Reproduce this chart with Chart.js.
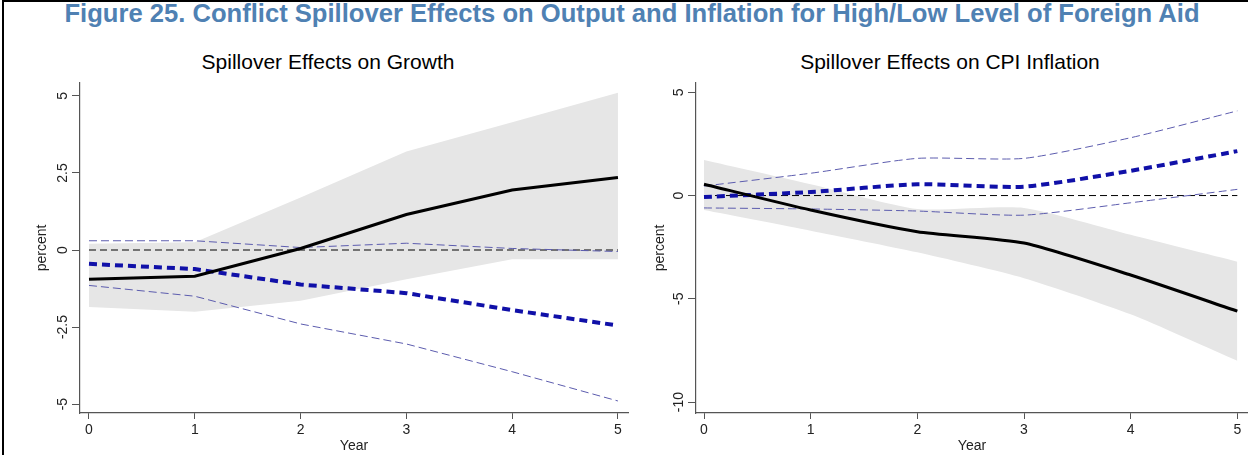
<!DOCTYPE html>
<html>
<head>
<meta charset="utf-8">
<script src="https://cdn.jsdelivr.net/npm/chart.js@4.4.1/dist/chart.umd.min.js"></script>
<style>
  body { margin: 0; background: #fff; font-family: "Liberation Sans", Arial, sans-serif; }
  #page { position: relative; width: 1248px; height: 455px; overflow: hidden; }
  #frame { position: absolute; left: 2px; top: 0px; width: 1300px; height: 500px;
           border-left: 2px solid #000; border-top: 2px solid #000; }
  #title { position: absolute; left: 0; width: 1264px; top: -1px; line-height: 28px;
           text-align: center; font-weight: bold; font-size: 25.6px; color: #4f81b3; white-space: nowrap; }
  .sub { position: absolute; top: 50px; line-height: 24px; font-size: 21px; color: #000;
         text-align: center; white-space: nowrap; }
  .box { position: absolute; top: 80px; height: 375px; }
</style>
</head>
<body>
<div id="page">
  <div id="frame"></div>
  <div id="title">Figure 25. Conflict Spillover Effects on Output and Inflation for High/Low Level of Foreign Aid</div>
  <div class="sub" style="left:128px;width:400px">Spillover Effects on Growth</div>
  <div class="sub" style="left:750px;width:400px">Spillover Effects on CPI Inflation</div>
  <div class="box" style="left:14px;width:620px"><canvas id="growth" width="620" height="375"></canvas></div>
  <div class="box" style="left:632px;width:616px"><canvas id="cpi" width="616" height="375"></canvas></div>
</div>
<script>
// horizon in years
const years = [0, 1, 2, 3, 4, 5];
const zeroLine = [0, 0, 0, 0, 0, 0];

// growth panel
const growthBase = [-0.95, -0.85, 0.05, 1.15, 1.95, 2.35];
const growthBandUpper = [0.2, 0.25, 1.7, 3.2, 4.15, 5.1];
const growthBandLower = [-1.85, -2.0, -1.65, -0.95, -0.3, -0.3];
const growthAid = [-0.45, -0.62, -1.12, -1.4, -1.95, -2.45];
const growthAidUpper = [0.3, 0.3, 0.08, 0.22, 0.05, -0.05];
const growthAidLower = [-1.15, -1.5, -2.4, -3.05, -3.95, -4.9];
const growthTicks = [5, 2.5, 0, -2.5, -5];

// CPI panel
const cpiBase = [0.55, -0.7, -1.75, -2.3, -3.85, -5.6];
const cpiBandUpper = [1.72, 0.55, -0.65, -0.6, -1.9, -3.2];
const cpiBandLower = [-0.7, -1.7, -2.75, -4.0, -5.75, -8.0];
const cpiAid = [-0.07, 0.17, 0.55, 0.43, 1.2, 2.15];
const cpiAidUpper = [0.46, 1.08, 1.8, 1.8, 2.8, 4.1];
const cpiAidLower = [-0.6, -0.65, -0.75, -0.95, -0.35, 0.3];
const cpiTicks = [5, 0, -5, -10];

const FONT = '"Liberation Sans", Arial, sans-serif';

function pts(vals) {
  return years.map((x, i) => ({ x: x, y: vals[i] }));
}

// Stata style y labels, turned on their side
const sideLabels = {
  id: 'sideLabels',
  afterDraw(chart) {
    const s = chart.scales.y;
    const ctx = chart.ctx;
    ctx.save();
    ctx.fillStyle = '#222';
    ctx.font = '14px ' + FONT;
    ctx.textAlign = 'center';
    ctx.textBaseline = 'middle';
    for (const v of chart.options.plugins.sideLabels.values) {
      ctx.save();
      ctx.translate(s.right - 17, s.getPixelForValue(v));
      ctx.rotate(-Math.PI / 2);
      ctx.fillText(String(v), 0, 0);
      ctx.restore();
    }
    ctx.restore();
  }
};

function makePanel(id, d) {
  const ds = [
    { data: pts(d.base), borderColor: '#000', borderWidth: 3, tension: d.tension },
    { data: pts(d.aid), borderColor: '#1010a8', borderWidth: 4, borderDash: [8, 5], tension: d.tension },
    { data: pts(d.aidUpper), borderColor: '#5c5cae', borderWidth: 1, borderDash: [8, 4], tension: d.tension },
    { data: pts(d.aidLower), borderColor: '#5c5cae', borderWidth: 1, borderDash: [8, 4], tension: d.tension },
    { data: pts(zeroLine), borderColor: '#000', borderWidth: 1, borderDash: [7, 4] },
    { data: pts(d.upper), borderWidth: 0, backgroundColor: '#e6e6e6', fill: '+1', tension: d.tension },
    { data: pts(d.lower), borderWidth: 0, backgroundColor: '#e6e6e6', fill: false, tension: d.tension }
  ];
  return new Chart(document.getElementById(id), {
    type: 'line',
    data: { datasets: ds },
    options: {
      responsive: false,
      animation: false,
      elements: { point: { radius: 0 } },
      layout: { padding: { top: 3, right: d.padRight, left: 0, bottom: 0 } },
      plugins: {
        legend: { display: false },
        tooltip: { enabled: false },
        sideLabels: { values: d.ticks }
      },
      scales: {
        x: {
          type: 'linear',
          min: d.xmin, max: d.xmax,
          afterBuildTicks: s => { s.ticks = years.map(v => ({ value: v })); },
          afterFit: s => { s.height = 42; },
          grid: { drawOnChartArea: false, tickLength: 6, color: '#555' },
          border: { color: '#555', width: 1.2 },
          ticks: { includeBounds: false, padding: 3, color: '#222', font: { family: FONT, size: 14 } },
          title: { display: true, text: 'Year', color: '#222', padding: 0, font: { family: FONT, size: 14 } }
        },
        y: {
          min: d.ymin, max: d.ymax,
          afterBuildTicks: s => { s.ticks = d.ticks.map(v => ({ value: v })); },
          afterFit: s => { s.width = d.axisWidth; },
          grid: { drawOnChartArea: false, tickLength: 8, color: '#555' },
          border: { color: '#555', width: 1.2 },
          ticks: { display: false },
          title: { display: true, text: 'percent', color: '#222', padding: { top: 20, bottom: 0 }, font: { family: FONT, size: 14 } }
        }
      }
    },
    plugins: [sideLabels]
  });
}

makePanel('growth', {
  base: growthBase, aid: growthAid, aidUpper: growthAidUpper, aidLower: growthAidLower,
  upper: growthBandUpper, lower: growthBandLower, ticks: growthTicks,
  xmin: -0.085, xmax: 5.095, ymin: -5.29, ymax: 5.42, axisWidth: 66, padRight: 6, tension: 0
});

makePanel('cpi', {
  base: cpiBase, aid: cpiAid, aidUpper: cpiAidUpper, aidLower: cpiAidLower,
  upper: cpiBandUpper, lower: cpiBandLower, ticks: cpiTicks,
  xmin: -0.075, xmax: 5.1, ymin: -10.53, ymax: 5.45, axisWidth: 64, padRight: 0, tension: 0.2
});
</script>
</body>
</html>
